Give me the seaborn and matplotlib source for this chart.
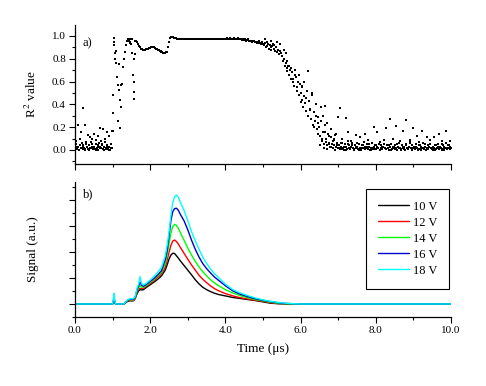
import numpy as np
import pandas as pd
import matplotlib
matplotlib.use("Agg")
import matplotlib.pyplot as plt
import seaborn as sns
from matplotlib.ticker import MultipleLocator, FormatStrFormatter, NullFormatter

# ---- panel a) R^2 values, sampled every 0.025 us from 0 to 10 us ----
r2_step = 0.025
r2_values = [
    # 0.0 - 0.475
    0.02, 0.05, 0.01, 0.03, 0.00, 0.04, 0.02, 0.06, 0.01, 0.03, 0.02, 0.00, 0.05, 0.03, 0.01, 0.04, 0.02, 0.07, 0.03, 0.01,
    # 0.5 - 0.975
    0.03, 0.01, 0.05, 0.02, 0.04, 0.00, 0.06, 0.03, 0.02, 0.05, 0.01, 0.03, 0.07, 0.02, 0.04, 0.01, 0.03, 0.00, 0.05, 0.02,
    # 1.0 - 1.475
    0.32, 0.98, 0.92, 0.85, 0.76, 0.64, 0.57, 0.53, 0.44, 0.38, 0.58, 0.73, 0.80, 0.86, 0.92, 0.96, 0.97, 0.96, 0.95, 0.94,
    # 1.5 - 1.975
    0.93, 0.85, 0.66, 0.51, 0.96, 0.96, 0.95, 0.93, 0.91, 0.90, 0.89, 0.89, 0.88, 0.88, 0.88, 0.88, 0.885, 0.89, 0.89, 0.895,
    # 2.0 - 2.475
    0.895, 0.90, 0.90, 0.90, 0.90, 0.895, 0.89, 0.885, 0.88, 0.875, 0.87, 0.865, 0.86, 0.855, 0.85, 0.85, 0.85, 0.855, 0.86, 0.90,
    # 2.5 - 2.975
    0.95, 0.98, 0.99, 0.995, 0.99, 0.985, 0.98, 0.978, 0.975, 0.973, 0.972, 0.97, 0.97, 0.97, 0.97, 0.97, 0.97, 0.97, 0.97, 0.97,
    # 3.0 - 3.475
    0.97, 0.97, 0.97, 0.97, 0.97, 0.97, 0.97, 0.97, 0.97, 0.97, 0.97, 0.97, 0.97, 0.97, 0.97, 0.97, 0.97, 0.97, 0.97, 0.97,
    # 3.5 - 3.975
    0.97, 0.97, 0.97, 0.97, 0.97, 0.97, 0.97, 0.97, 0.97, 0.97, 0.97, 0.97, 0.975, 0.97, 0.97, 0.975, 0.97, 0.97, 0.975, 0.97,
    # 4.0 - 4.475
    0.975, 0.97, 0.98, 0.97, 0.975, 0.98, 0.97, 0.975, 0.97, 0.98, 0.975, 0.97, 0.975, 0.98, 0.97, 0.97, 0.975, 0.97, 0.965, 0.97,
    # 4.5 - 4.975
    0.965, 0.97, 0.96, 0.965, 0.97, 0.96, 0.955, 0.96, 0.95, 0.955, 0.96, 0.95, 0.945, 0.95, 0.94, 0.95, 0.935, 0.94, 0.93, 0.945,
    # 5.0 - 5.475
    0.93, 0.92, 0.94, 0.90, 0.91, 0.93, 0.89, 0.92, 0.90, 0.88, 0.91, 0.93, 0.89, 0.87, 0.90, 0.86, 0.88, 0.84, 0.87, 0.85,
    # 5.5 - 5.975
    0.82, 0.78, 0.80, 0.74, 0.76, 0.72, 0.69, 0.74, 0.66, 0.70, 0.62, 0.68, 0.60, 0.56, 0.66, 0.64, 0.52, 0.60, 0.48, 0.58,
    # 6.0 - 6.475
    0.50, 0.44, 0.56, 0.38, 0.47, 0.41, 0.34, 0.52, 0.30, 0.43, 0.36, 0.27, 0.48, 0.22, 0.33, 0.25, 0.40, 0.18, 0.29, 0.14,
    # 6.5 - 6.975
    0.20, 0.12, 0.25, 0.08, 0.16, 0.05, 0.22, 0.10, 0.04, 0.14, 0.06, 0.03, 0.11, 0.05, 0.02, 0.09, 0.04, 0.13, 0.03, 0.06,
    # 7.0 - 7.475
    0.02, 0.04, 0.01, 0.03, 0.06, 0.02, 0.00, 0.05, 0.03, 0.01, 0.08, 0.02, 0.04, 0.01, 0.03, 0.06, 0.02, 0.00, 0.04, 0.02,
    # 7.5 - 7.975
    0.03, 0.01, 0.05, 0.02, 0.00, 0.04, 0.02, 0.07, 0.01, 0.03, 0.02, 0.05, 0.01, 0.03, 0.00, 0.02, 0.06, 0.01, 0.03, 0.04,
    # 8.0 - 8.475
    0.01, 0.03, 0.02, 0.05, 0.00, 0.02, 0.04, 0.01, 0.03, 0.09, 0.02, 0.01, 0.04, 0.02, 0.00, 0.03, 0.05, 0.01, 0.02, 0.03,
    # 8.5 - 8.975
    0.04, 0.01, 0.02, 0.00, 0.03, 0.06, 0.02, 0.01, 0.04, 0.02, 0.03, 0.00, 0.05, 0.02, 0.01, 0.03, 0.07, 0.02, 0.00, 0.04,
    # 9.0 - 9.475
    0.02, 0.03, 0.01, 0.05, 0.02, 0.00, 0.04, 0.01, 0.03, 0.02, 0.06, 0.01, 0.03, 0.00, 0.02, 0.04, 0.01, 0.03, 0.05, 0.02,
    # 9.5 - 9.975
    0.01, 0.03, 0.02, 0.00, 0.04, 0.02, 0.05, 0.01, 0.03, 0.02, 0.00, 0.04, 0.01, 0.03, 0.02, 0.06, 0.01, 0.02, 0.04, 0.03,
    # 10.0
    0.02,
]

# second band of low fits (every 0.05 us, offset half a step)
band_early = [0.01, 0.03, 0.00, 0.02, 0.04, 0.01, 0.03, 0.00, 0.02, 0.05,
              0.01, 0.00, 0.03, 0.02, 0.04, 0.00, 0.01, 0.03, 0.00, 0.02]
band_late = [0.04, 0.10, 0.02, 0.07, 0.01, 0.05, 0.03, 0.08, 0.00, 0.04,
             0.02, 0.06, 0.01, 0.03, 0.00, 0.05, 0.02, 0.04, 0.01, 0.03,
             0.06, 0.00, 0.02, 0.04, 0.01, 0.03, 0.05, 0.00, 0.02, 0.01,
             0.04, 0.02, 0.00, 0.03, 0.05, 0.01, 0.02, 0.04, 0.00, 0.03,
             0.01, 0.05, 0.02, 0.00, 0.03, 0.01, 0.04, 0.02, 0.06, 0.00,
             0.02, 0.03, 0.01, 0.04, 0.00, 0.02, 0.05, 0.01, 0.03, 0.02,
             0.00, 0.04, 0.01, 0.03, 0.02, 0.05, 0.00, 0.02, 0.04, 0.01]

# scattered extra fits
extra_t = [0.04, 0.09, 0.13, 0.16, 0.22, 0.27, 0.30, 0.35, 0.40, 0.45, 0.50, 0.56, 0.60, 0.66, 0.70, 0.75, 0.80, 0.84, 0.90, 0.98,
           1.00, 1.00, 1.03, 1.06, 1.08, 1.15, 1.20, 1.22, 1.18, 1.57, 1.58, 1.56, 1.60, 1.45, 1.52,
           4.90, 5.05, 5.10, 5.20, 5.30, 5.36, 5.45, 5.55, 5.60, 5.65, 5.70, 5.75, 5.80, 5.85, 5.90, 5.95, 6.00, 6.05,
           6.10, 6.15, 6.20, 6.25, 6.30, 6.35, 6.40, 6.45, 6.55, 6.60, 6.65, 6.70, 6.75, 6.80, 6.90, 6.95,
           6.65, 7.05, 7.21, 6.99, 8.38, 8.80, 8.54, 9.00, 7.95, 9.22, 8.73, 9.86, 9.69, 9.56, 8.27, 7.71, 7.47, 7.27,
           8.02, 7.58, 9.10, 9.35, 9.97, 9.88, 7.10, 7.35, 7.80, 8.10, 8.45, 8.65, 8.90, 9.15, 9.45, 9.75]
extra_v = [0.08, 0.22, 0.10, 0.16, 0.37, 0.22, 0.07, 0.13, 0.11, 0.10, 0.14, 0.09, 0.12, 0.19, 0.08, 0.18, 0.10, 0.16, 0.12, 0.17,
           0.17, 0.48, 0.95, 0.80, 0.87, 0.25, 0.19, 0.57, 0.75, 0.45, 0.60, 0.80, 0.84, 0.97, 0.97,
           0.96, 0.97, 0.95, 0.96, 0.92, 0.95, 0.93, 0.88, 0.85, 0.78, 0.74, 0.72, 0.62, 0.70, 0.55, 0.66, 0.42, 0.55,
           0.60, 0.46, 0.69, 0.35, 0.50, 0.20, 0.30, 0.24, 0.38, 0.30, 0.16, 0.24, 0.12, 0.18, 0.10, 0.14,
           0.39, 0.37, 0.28, 0.29, 0.27, 0.26, 0.21, 0.19, 0.20, 0.17, 0.17, 0.17, 0.14, 0.11, 0.19, 0.14, 0.13, 0.16,
           0.16, 0.11, 0.12, 0.11, 0.08, 0.06, 0.10, 0.08, 0.09, 0.07, 0.10, 0.08, 0.09, 0.07, 0.09, 0.08]

# ---- panel b) signals ----
sig_t = [0, 1.0, 1.02, 1.04, 1.06, 1.08, 1.3, 1.35, 1.4, 1.45, 1.5, 1.55, 1.6, 1.65, 1.7, 1.73, 1.77, 1.82,
         1.9, 2.0, 2.1, 2.2, 2.3, 2.4, 2.45, 2.5, 2.55, 2.6, 2.65, 2.7, 2.75, 2.8, 2.9, 3.0, 3.1, 3.2,
         3.3, 3.4, 3.5, 3.6, 3.7, 3.8, 4.0, 4.2, 4.4, 4.6, 4.8, 5.0, 5.2, 5.4, 5.6, 5.8, 6.0, 10.0]
sig_10v = [0, 0, 0.05, 0.10, 0.03, 0, 0, 0.05, 0.10, 0.12, 0.12, 0.12, 0.20, 0.40, 0.52, 0.55, 0.54, 0.55,
           0.64, 0.74, 0.84, 0.95, 1.08, 1.30, 1.50, 1.72, 1.88, 1.95, 1.94, 1.85, 1.76, 1.66, 1.48, 1.30, 1.12, 0.93,
           0.77, 0.64, 0.55, 0.48, 0.42, 0.37, 0.31, 0.25, 0.21, 0.17, 0.13, 0.08, 0.03, 0.01, 0, 0, 0, 0]
sig_12v = [0, 0, 0.06, 0.14, 0.04, 0, 0, 0.06, 0.12, 0.14, 0.14, 0.14, 0.22, 0.45, 0.58, 0.60, 0.60, 0.60,
           0.69, 0.79, 0.90, 1.02, 1.16, 1.42, 1.68, 1.98, 2.25, 2.42, 2.46, 2.40, 2.30, 2.18, 1.95, 1.72, 1.50, 1.30,
           1.10, 0.95, 0.82, 0.70, 0.60, 0.52, 0.40, 0.31, 0.24, 0.19, 0.14, 0.10, 0.05, 0.02, 0.01, 0, 0, 0]
sig_14v = [0, 0, 0.08, 0.20, 0.05, 0, 0, 0.07, 0.13, 0.16, 0.16, 0.16, 0.24, 0.50, 0.64, 0.70, 0.66, 0.64,
           0.72, 0.83, 0.94, 1.07, 1.22, 1.55, 1.88, 2.30, 2.72, 2.98, 3.06, 3.02, 2.90, 2.75, 2.45, 2.15, 1.88, 1.64,
           1.42, 1.24, 1.08, 0.94, 0.82, 0.72, 0.55, 0.42, 0.32, 0.24, 0.17, 0.12, 0.07, 0.03, 0.01, 0, 0, 0]
sig_16v = [0, 0, 0.10, 0.25, 0.06, 0, 0, 0.08, 0.14, 0.18, 0.18, 0.18, 0.26, 0.55, 0.72, 0.85, 0.72, 0.68,
           0.76, 0.87, 0.98, 1.12, 1.28, 1.70, 2.05, 2.60, 3.20, 3.55, 3.67, 3.68, 3.60, 3.45, 3.20, 2.85, 2.45, 2.10,
           1.80, 1.55, 1.36, 1.20, 1.05, 0.93, 0.70, 0.50, 0.37, 0.28, 0.20, 0.14, 0.09, 0.05, 0.02, 0.01, 0, 0]
sig_18v = [0, 0, 0.20, 0.41, 0.10, 0, 0, 0.09, 0.16, 0.20, 0.20, 0.20, 0.28, 0.60, 0.80, 1.05, 0.78, 0.73,
           0.80, 0.92, 1.06, 1.22, 1.40, 1.85, 2.25, 2.75, 3.40, 3.90, 4.12, 4.19, 4.10, 3.92, 3.60, 3.20, 2.78, 2.42,
           2.10, 1.80, 1.56, 1.36, 1.18, 1.04, 0.76, 0.55, 0.42, 0.32, 0.23, 0.16, 0.10, 0.06, 0.03, 0.01, 0, 0]

voltages = ["10 V", "12 V", "14 V", "16 V", "18 V"]
colors = ["#000000", "#ff0000", "#00ff00", "#0000cc", "#00ffff"]

# build tables
r2_t = np.round(np.arange(len(r2_values)) * r2_step, 4)
band_early_t = 0.0125 + 0.05 * np.arange(len(band_early))
band_late_t = 6.5125 + 0.05 * np.arange(len(band_late))
r2_df = pd.DataFrame({
    "t": np.concatenate([r2_t, band_early_t, band_late_t, extra_t]),
    "r2": np.concatenate([r2_values, band_early, band_late, extra_v]),
})
sig_df = pd.DataFrame({"t": sig_t, "10 V": sig_10v, "12 V": sig_12v, "14 V": sig_14v,
                       "16 V": sig_16v, "18 V": sig_18v})

sns.set_style("ticks")
plt.rcParams["font.family"] = ["Liberation Serif", "DejaVu Serif"]
plt.rcParams["mathtext.fontset"] = "stix"
plt.rcParams["text.color"] = "black"
plt.rcParams["axes.labelcolor"] = "black"
plt.rcParams["xtick.color"] = "black"
plt.rcParams["ytick.color"] = "black"

fig = plt.figure(figsize=(4.86, 3.86), dpi=100)
ax1 = fig.add_axes([0.1543, 0.5751, 0.7737, 0.3601])
ax2 = fig.add_axes([0.1543, 0.1788, 0.7737, 0.3497])

# a) scatter
sns.scatterplot(data=r2_df, x="t", y="r2", ax=ax1, color="black", marker="s",
                s=4, linewidth=0, legend=False)
ax1.set_xlim(0, 10)
ax1.set_ylim(-0.123, 1.096)
ax1.set_xlabel("")
ax1.set_ylabel("R$^2$ value", fontsize=9.5)
ax1.yaxis.set_major_locator(MultipleLocator(0.2))
ax1.yaxis.set_minor_locator(MultipleLocator(0.1))
ax1.yaxis.set_major_formatter(FormatStrFormatter("%.1f"))
ax1.xaxis.set_major_locator(MultipleLocator(2))
ax1.xaxis.set_minor_locator(MultipleLocator(1))
ax1.xaxis.set_major_formatter(NullFormatter())
ax1.text(0.019, 0.87, "a)", transform=ax1.transAxes, fontsize=9, va="center")

# b) signals
for v, c in zip(voltages, colors):
    sns.lineplot(data=sig_df, x="t", y=v, ax=ax2, color=c, linewidth=1.0, label=v)
ax2.set_xlim(0, 10)
ax2.set_ylim(-0.5, 4.69)
ax2.set_xlabel("Time (\u03bcs)", fontsize=9.5)
ax2.set_ylabel("Signal (a.u.)", fontsize=9.5)
ax2.yaxis.set_major_locator(MultipleLocator(1))
ax2.yaxis.set_minor_locator(MultipleLocator(0.5))
ax2.yaxis.set_major_formatter(NullFormatter())
ax2.xaxis.set_major_locator(MultipleLocator(2))
ax2.xaxis.set_minor_locator(MultipleLocator(1))
ax2.xaxis.set_major_formatter(FormatStrFormatter("%.1f"))
ax2.text(0.021, 0.91, "b)", transform=ax2.transAxes, fontsize=9, va="center")

leg = ax2.legend(loc="upper left", bbox_to_anchor=(0.774, 0.948), borderaxespad=0,
                 fontsize=9, handlelength=2.5, labelspacing=0.32, borderpad=0.94,
                 handletextpad=0.3, fancybox=False, framealpha=1)
leg.get_frame().set_edgecolor("black")
leg.get_frame().set_linewidth(0.8)

for ax in (ax1, ax2):
    sns.despine(ax=ax)
    for sp in ("left", "bottom"):
        ax.spines[sp].set_color("black")
        ax.spines[sp].set_linewidth(0.9)
    ax.tick_params(which="major", length=4.5, width=0.8, direction="out", labelsize=8, pad=2)
    ax.tick_params(which="minor", length=2.5, width=0.8, direction="out")
    ax.yaxis.set_label_coords(-0.095, 0.5)

ax2.xaxis.labelpad = 6

fig.savefig("out.png", dpi=100)
